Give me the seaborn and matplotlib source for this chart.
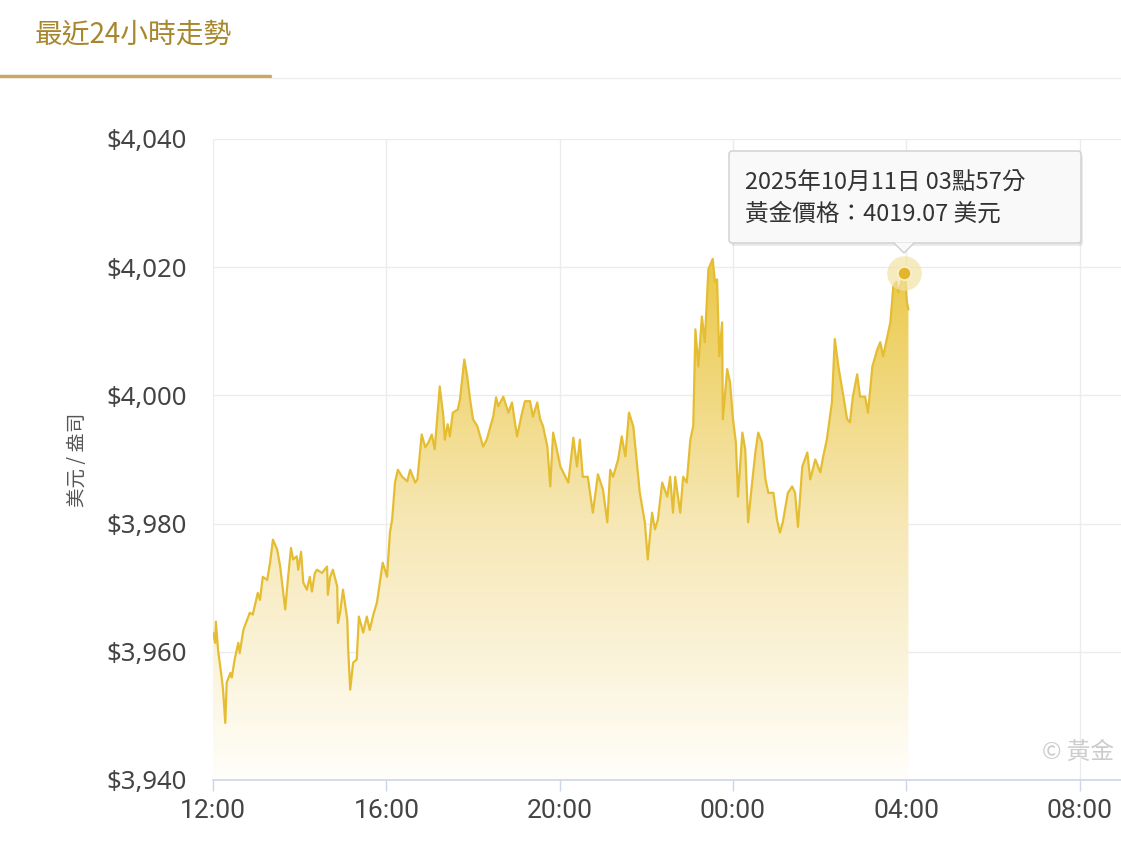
import numpy as np
import pandas as pd
import matplotlib
matplotlib.use('Agg')
import matplotlib.pyplot as plt
from matplotlib.colors import LinearSegmentedColormap
from matplotlib.patches import FancyBboxPatch, Polygon
from matplotlib.lines import Line2D
import seaborn as sns

# minutes after 12:00 and gold price (USD / oz)
minutes = [0, 3, 4, 7, 12, 14, 17, 19, 24, 26, 30, 35, 37, 42, 51, 55, 62, 65, 69, 75,
           79, 83, 89, 93, 100, 104, 108, 111, 116, 118, 122, 125, 130, 134, 137, 141, 144, 151, 158, 159,
           162, 166, 172, 173, 176, 180, 186, 187, 190, 194, 199, 202, 208, 213, 217, 222, 227, 235, 241, 245,
           248, 252, 256, 262, 269, 273, 280, 283, 289, 294, 298, 303, 307, 314, 319, 321, 325, 328, 332, 339,
           342, 348, 352, 356, 360, 366, 374, 379, 388, 392, 395, 402, 409, 414, 421, 428, 432, 439, 443, 449,
           453, 457, 463, 467, 471, 476, 481, 488, 492, 499, 504, 508, 512, 519, 526, 533, 540, 546, 550, 554,
           561, 566, 571, 576, 582, 587, 591, 598, 602, 608, 612, 616, 622, 629, 633, 637, 640, 647, 651, 656,
           661, 665, 668, 672, 677, 681, 686, 692, 695, 698, 701, 705, 706, 712, 716, 720, 724, 727, 733, 737,
           741, 746, 751, 755, 760, 765, 769, 776, 781, 785, 789, 796, 802, 806, 810, 816, 823, 827, 834, 841,
           845, 850, 857, 861, 866, 873, 878, 882, 886, 892, 896, 903, 907, 913, 920, 924, 928, 933, 938, 942,
           946, 949, 957, 959, 961, 963]
prices = [3963.0, 3961.4, 3964.7, 3960.3, 3956.0, 3954.0, 3948.9, 3955.2, 3956.7, 3956.0,
          3958.8, 3961.4, 3959.8, 3963.4, 3966.1, 3965.8, 3969.2, 3968.1, 3971.7, 3971.2,
          3973.9, 3977.5, 3975.9, 3973.3, 3966.6, 3971.7, 3976.2, 3974.4, 3974.9, 3972.8,
          3975.6, 3970.8, 3969.7, 3971.7, 3969.4, 3972.3, 3972.8, 3972.3, 3973.3, 3968.9,
          3971.6, 3972.8, 3970.2, 3964.5, 3966.1, 3969.7, 3965.0, 3960.8, 3954.1, 3958.3,
          3958.8, 3965.5, 3963.0, 3965.5, 3963.4, 3965.8, 3967.7, 3973.9, 3971.7, 3978.6,
          3980.6, 3986.4, 3988.4, 3987.3, 3986.6, 3988.4, 3986.4, 3986.9, 3993.9, 3991.9,
          3992.6, 3993.9, 3991.6, 4001.4, 3996.7, 3993.1, 3995.5, 3993.6, 3997.3, 3997.8,
          3999.4, 4005.6, 4003.0, 3999.4, 3996.3, 3995.2, 3992.0, 3993.1, 3996.7, 3999.7,
          3998.3, 3999.8, 3997.3, 3998.9, 3993.6, 3997.3, 3999.1, 3999.1, 3996.7, 3998.9,
          3996.3, 3995.2, 3992.0, 3985.8, 3994.2, 3991.6, 3988.9, 3987.3, 3986.4, 3993.4,
          3988.9, 3993.1, 3987.3, 3987.3, 3981.7, 3987.7, 3985.3, 3980.2, 3988.4, 3987.3,
          3990.0, 3993.6, 3990.5, 3997.3, 3995.2, 3989.5, 3984.8, 3980.2, 3974.4, 3981.7,
          3979.1, 3980.6, 3986.4, 3984.2, 3987.3, 3981.7, 3987.3, 3981.7, 3987.3, 3986.4,
          3993.1, 3995.2, 4010.3, 4004.5, 4012.3, 4008.3, 4019.7, 4021.3, 4017.7, 4018.1,
          4006.1, 4011.4, 3996.3, 4004.1, 4002.0, 3996.3, 3992.7, 3984.2, 3994.2, 3991.6,
          3980.2, 3985.8, 3991.1, 3994.2, 3992.7, 3986.9, 3984.8, 3984.8, 3980.6, 3978.6,
          3980.2, 3984.8, 3985.8, 3984.8, 3979.5, 3988.9, 3991.1, 3986.9, 3990.0, 3988.0,
          3990.5, 3993.1, 3998.9, 4008.8, 4004.5, 3999.8, 3996.3, 3995.8, 3999.8, 4003.3,
          3999.8, 3999.8, 3997.3, 4004.5, 4007.2, 4008.3, 4006.1, 4008.8, 4011.4, 4017.0,
          4017.7, 4016.1, 4019.07, 4017.7, 4014.5, 4013.4]

tick_hours = [0, 4, 8, 12, 16, 20]
tick_labels = ['12:00', '16:00', '20:00', '00:00', '04:00', '08:00']
y_ticks = [3940, 3960, 3980, 4000, 4020, 4040]

title = '最近24小時走勢'
ylabel = '美元 / 盎司'
tip_time = '2025年10月11日 03點57分'
tip_price = '黃金價格：4019.07 美元'
tip_minute = 957
tip_value = 4019.07

df = pd.DataFrame({'hours': np.array(minutes) / 60.0, 'price': prices})

sns.set_theme(style='white')
cjk = ['Noto Sans CJK TC', 'DejaVu Sans']
plt.rcParams['font.family'] = cjk

W, H = 1121, 855
fig = plt.figure(figsize=(W / 100, H / 100), dpi=100)
fig.patch.set_facecolor('white')

left, right, top, bottom = 213, W, 139, 780
ax = fig.add_axes([left / W, 1 - bottom / H, (right - left) / W, (bottom - top) / H])
ax.set_facecolor('white')
xmax = (W - left) / 43.33

# gradient fill below the line
gold = LinearSegmentedColormap.from_list('gold', ['#fffefa', '#f6e7b4', '#ebc847'])
grad = np.linspace(0, 1, 256).reshape(-1, 1)
ymax = df['price'].max()
img = ax.imshow(grad, cmap=gold, aspect='auto', origin='lower',
                extent=[df['hours'].min(), df['hours'].max(), 3940, ymax], zorder=1)
poly = ax.fill_between(df['hours'], df['price'], 3940, color='none', lw=0)
clip = Polygon(poly.get_paths()[0].vertices, closed=True, transform=ax.transData)
img.set_clip_path(clip)

sns.lineplot(data=df, x='hours', y='price', ax=ax, color='#e5bd33', linewidth=1.6, zorder=3)
ax.set_xlim(0, xmax)
ax.set_ylim(3940, 4040)

# highlighted point
th = tip_minute / 60.0
ax.scatter([th], [tip_value], s=620, color='#f3e2a4', alpha=0.7, zorder=4, linewidths=0)
ax.scatter([th], [tip_value], s=90, color='#e2b52b', zorder=5, edgecolors='#fbf1cf', linewidths=1.2)

ax.set_xticks(tick_hours)
ax.set_xticklabels(tick_labels)
ax.set_yticks(y_ticks)
ax.set_yticklabels(['${:,}'.format(v) for v in y_ticks])
ax.grid(True, color='#ececec', linewidth=1)
ax.set_axisbelow(True)
for s in ['top', 'right', 'left']:
    ax.spines[s].set_visible(False)
ax.spines['bottom'].set_color('#ccd6eb')
ax.spines['bottom'].set_linewidth(1.2)
ax.tick_params(axis='x', length=8, width=1, color='#ccd6eb', pad=6, bottom=True)
ax.tick_params(axis='y', length=0, pad=19)
for lab in ax.get_xticklabels():
    lab.set_family(['Roboto', 'DejaVu Sans'])
    lab.set_fontsize(19)
    lab.set_color('#444444')
for lab in ax.get_yticklabels():
    lab.set_family(['Noto Sans', 'DejaVu Sans'])
    lab.set_fontsize(18.5)
    lab.set_color('#444444')
ax.set_xlabel('')
ax.set_ylabel('')

# overlay in pixel coordinates for header, labels and tooltip
ov = fig.add_axes([0, 0, 1, 1], zorder=10)
ov.set_xlim(0, W)
ov.set_ylim(H, 0)
ov.axis('off')
ov.patch.set_alpha(0)

ov.text(35, 35, title, fontsize=20, color='#a8872c', va='center', ha='left', family=cjk)
ov.add_line(Line2D([270, W], [78, 78], color='#eeeeee', lw=1))
ov.add_line(Line2D([0, 270], [76.5, 76.5], color='#c9a865', lw=2.5))

ov.text(78, 460, ylabel, fontsize=14, color='#555555', rotation=90, va='center', ha='center', family=cjk)
ov.text(1042, 752, '© 黃金', fontsize=17, color='#cccccc', va='center', ha='left', family=cjk)

# tooltip box
bx0, by0, bx1, by1 = 729, 151, 1081, 243
px = 904
shadow = FancyBboxPatch((bx0 + 2, by0 + 3), bx1 - bx0, by1 - by0, boxstyle='round,pad=0,rounding_size=3',
                        fc='#000000', ec='none', alpha=0.08, zorder=1)
ov.add_patch(shadow)
box = FancyBboxPatch((bx0, by0), bx1 - bx0, by1 - by0, boxstyle='round,pad=0,rounding_size=3',
                     fc='#f9f9f9', ec='#cfcfcf', lw=1, zorder=2)
ov.add_patch(box)
ov.add_patch(Polygon([[px - 10, by1 - 0.5], [px + 10, by1 - 0.5], [px, by1 + 10]], closed=True,
                     fc='#f9f9f9', ec='none', zorder=3))
ov.add_line(Line2D([px - 10, px, px + 10], [by1, by1 + 10, by1], color='#cfcfcf', lw=1, zorder=3))
ov.text(745, 183, tip_time, fontsize=17, color='#333333', va='center', ha='left', family=cjk, zorder=4)
ov.text(745, 214, tip_price, fontsize=17, color='#333333', va='center', ha='left', family=cjk, zorder=4)

fig.savefig('out.png', dpi=100)
